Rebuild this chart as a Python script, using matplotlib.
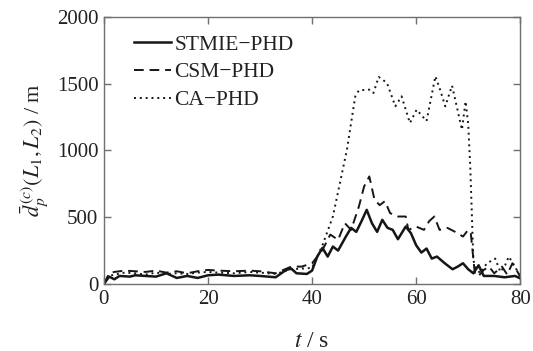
import matplotlib
matplotlib.use("Agg")
import matplotlib.pyplot as plt

plt.rcParams['font.family'] = ['Liberation Serif', 'DejaVu Serif']
plt.rcParams['mathtext.fontset'] = 'stix'

# ---- data ----
t_stmie = [0, 1, 2, 3, 5, 6, 8, 10, 12, 14, 16, 18, 20, 22, 25, 28, 30, 33, 35, 36, 37, 39, 40,
           41, 42, 43, 44, 45, 46.5, 47.5, 48.5, 49.5, 50.5, 51.5, 52.5, 53.5, 54.5, 55.5, 56.5,
           58, 59, 60, 61, 62, 63, 64, 65.5, 67, 68, 69, 70, 71, 72, 73, 75, 77, 79, 80]
v_stmie = [0, 55, 35, 60, 55, 65, 60, 55, 80, 45, 60, 45, 65, 70, 60, 65, 60, 50, 105, 115, 80, 75, 100,
           205, 270, 205, 280, 250, 355, 420, 390, 470, 555, 455, 390, 480, 420, 405, 335,
           430, 380, 290, 235, 265, 190, 205, 155, 110, 130, 155, 110, 80, 140, 60, 60, 50, 60, 42]

t_csm = [0, 1, 2, 4, 6, 8, 10, 12, 14, 16, 18, 20, 22, 25, 28, 30, 33, 36, 38, 40, 42, 43.5, 45,
         46.3, 47.5, 49, 50, 51, 52, 53, 54, 55, 56.5, 58, 58.5, 60, 61.5, 62.5, 63.5, 64.5, 66,
         67.5, 69, 70, 70.5, 71.3, 72, 73, 74, 75, 76.5, 77.5, 78.5, 79.5, 80]
v_csm = [0, 80, 90, 100, 95, 90, 100, 85, 95, 80, 95, 105, 100, 95, 100, 95, 80, 130, 130, 155, 255, 370, 330,
         455, 405, 580, 730, 805, 630, 590, 620, 530, 505, 505, 405, 430, 405, 470, 505, 405, 420,
         390, 355, 405, 380, 70, 60, 105, 130, 80, 130, 70, 155, 90, 55]

t_ca = [0, 1, 2, 4, 6, 8, 10, 12, 14, 16, 18, 20, 22, 25, 28, 30, 33, 36, 38, 40, 42, 44, 46.7, 48.3,
        49, 51, 51.8, 52.8, 54.4, 56, 57.2, 58.8, 60.1, 62, 63.7, 64.6, 65.6, 66.9, 67.8, 68.8,
        69.5, 70, 70.4, 71, 71.3, 72.3, 73.6, 75.2, 76.2, 77.1, 77.8, 79, 80]
v_ca = [0, 60, 70, 85, 80, 70, 85, 75, 80, 75, 85, 90, 85, 80, 90, 85, 75, 110, 115, 120, 290, 505, 1005, 1405,
        1450, 1455, 1430, 1550, 1505, 1330, 1405, 1205, 1305, 1220, 1555, 1455, 1330, 1485, 1330, 1155,
        1367, 1200, 880, 180, 130, 80, 155, 190, 90, 140, 205, 130, 55]

labels = ['STMIE\u2212PHD', 'CSM\u2212PHD', 'CA\u2212PHD']
x_ticks = [0, 20, 40, 60, 80]
y_ticks = [0, 500, 1000, 1500, 2000]

# ---- figure ----
fig = plt.figure(figsize=(5.33, 3.51), dpi=100)
ax = fig.add_axes([0.195, 0.191, 0.781, 0.761])

lc = '#161616'
ax.plot(t_stmie, v_stmie, color=lc, lw=1.8, linestyle='-', label=labels[0])
ax.plot(t_csm, v_csm, color=lc, lw=1.4, linestyle=(0, (5, 3)), label=labels[1])
ax.plot(t_ca, v_ca, color=lc, lw=1.4, linestyle=(0, (1, 2)), label=labels[2])

ax.set_xlim(0, 80)
ax.set_ylim(0, 2000)
ax.set_xticks(x_ticks)
ax.set_yticks(y_ticks)

spine_c = '#707070'
for s in ax.spines.values():
    s.set_color(spine_c)
    s.set_linewidth(1.0)
ax.tick_params(direction='in', top=True, right=True, length=5, width=1.0,
               color=spine_c, labelsize=15, labelcolor='#222222', pad=4)

ax.set_xlabel('$t$ / s', fontsize=17, color='#222222', labelpad=16)
ax.set_ylabel(r'$\bar{d}_p^{\,(c)}(L_1,L_2)$ / m', fontsize=16, color='#222222', labelpad=4)

leg = ax.legend(loc='upper left', frameon=False, fontsize=15.5, handlelength=1.75,
                handletextpad=0.15, labelspacing=0.36, borderaxespad=0.3,
                bbox_to_anchor=(0.035, 0.99))
for txt in leg.get_texts():
    txt.set_color('#222222')

fig.savefig('out.png', dpi=100)
